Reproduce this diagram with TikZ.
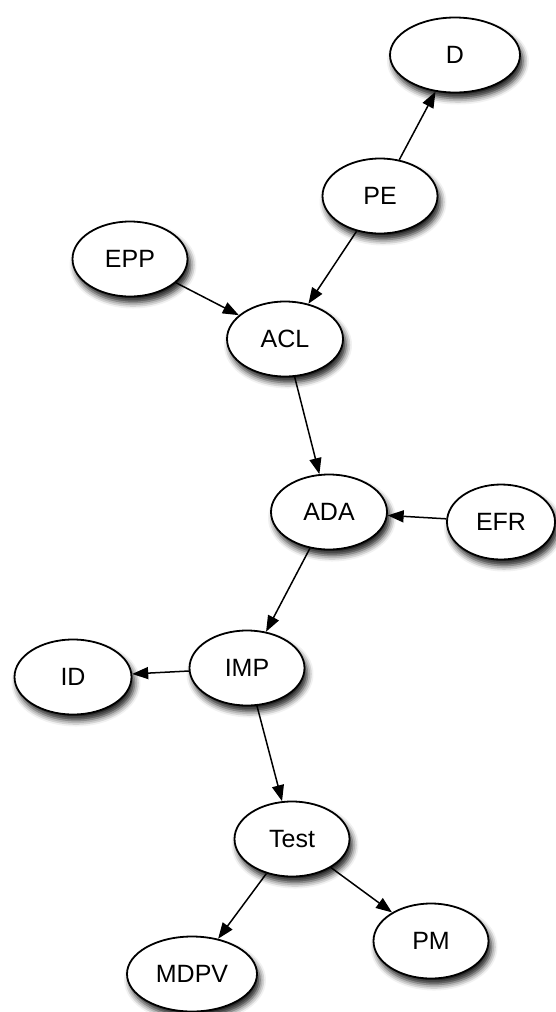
\documentclass[tikz,border=0pt]{standalone}
\usepackage{fontspec}
\setmainfont{Liberation Sans}
\usepackage{tikz}
\usetikzlibrary{arrows.meta,shapes.geometric,shadows.blur}

\begin{document}
\begin{tikzpicture}[x=1pt,y=-1pt,font=\fontsize{25}{30}\selectfont,
oval/.style={draw,ellipse,line width=1.8pt,fill=white,inner sep=0pt,minimum width=115pt,minimum height=75pt,
  blur shadow={shadow xshift=3pt,shadow yshift=-6pt,shadow blur radius=6pt,shadow opacity=90}},
arr/.style={-{Triangle[length=16pt,width=12pt]},line width=1.5pt}]
\useasboundingbox (0,0) rectangle (556,1012);
\node[oval,minimum width=130pt] (D) at (455,55) {D};
\node[oval] (PE) at (380,196) {PE};
\node[oval] (EPP) at (130,259) {EPP};
\node[oval,minimum width=116pt] (ACL) at (285,339) {ACL};
\node[oval,minimum width=116pt] (ADA) at (329,512) {ADA};
\node[oval,minimum width=108pt] (EFR) at (501,522) {EFR};
\node[oval] (IMP) at (247,668) {IMP};
\node[oval,minimum width=117pt] (ID) at (73,677) {ID};
\node[oval] (Test) at (292,839) {Test};
\node[oval] (PM) at (431,941) {PM};
\node[oval,minimum width=130pt] (MDPV) at (192,974) {MDPV};
\draw[arr](PE)--(D);
\draw[arr](PE)--(ACL);
\draw[arr](EPP)--(ACL);
\draw[arr](ACL)--(ADA);
\draw[arr](EFR)--(ADA);
\draw[arr](ADA)--(IMP);
\draw[arr](IMP)--(ID);
\draw[arr](IMP)--(Test);
\draw[arr](Test)--(MDPV);
\draw[arr](Test)--(PM);
\end{tikzpicture}
\end{document}
